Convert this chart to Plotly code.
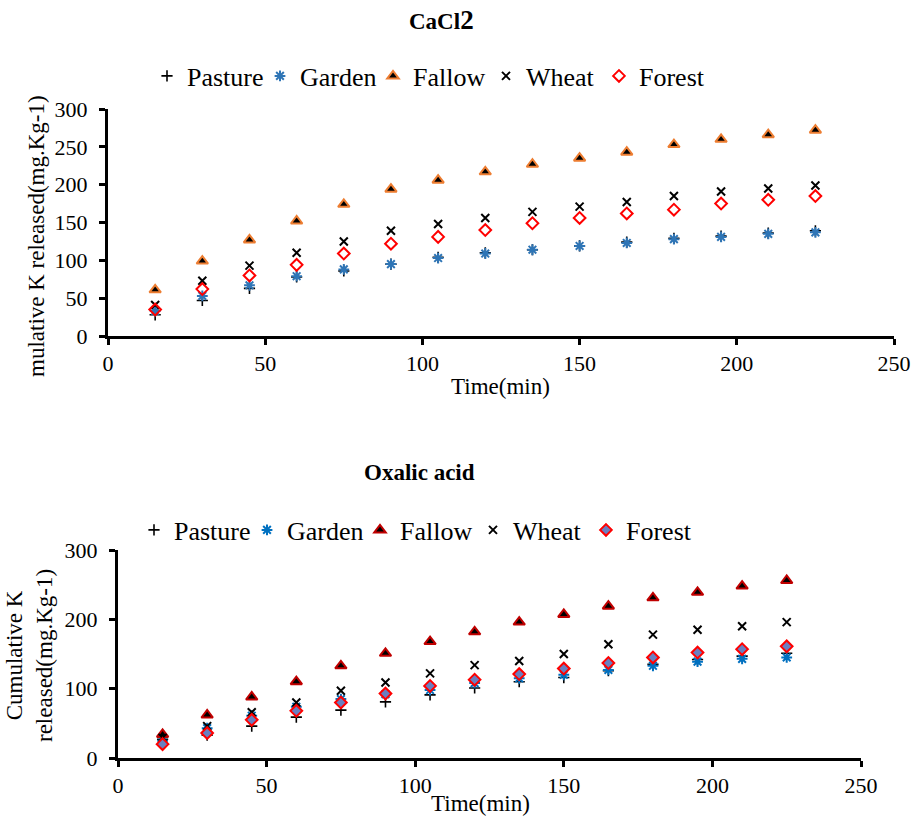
import plotly.graph_objects as go

W, H = 919, 820
time_min = [15, 30, 45, 60, 75, 90, 105, 120, 135, 150, 165, 180, 195, 210, 225]
series_names = ["Pasture", "Garden", "Fallow", "Wheat", "Forest"]

# CaCl2 extraction (mg/kg)
cacl2_pasture = [28, 47, 63, 78, 86, 95, 104, 110, 114, 119, 124, 129, 132, 136, 139]
cacl2_garden = [33, 53, 67, 79, 88, 95, 103, 109, 114, 119, 123, 128, 131, 135, 137]
cacl2_fallow = [61, 99, 127, 152, 174, 194, 206, 217, 227, 235, 243, 253, 260, 266, 272]
cacl2_wheat = [41, 73, 93, 110, 125, 139, 148, 156, 164, 171, 177, 185, 191, 195, 199]
cacl2_forest = [35, 62, 80, 94, 109, 122, 131, 140, 149, 156, 162, 167, 175, 180, 185]

# Oxalic acid extraction (mg/kg)
ox_pasture = [27, 33, 46, 59, 69, 81, 91, 101, 110, 116, 126, 135, 142, 147, 151]
ox_garden = [25, 43, 61, 74, 85, 92, 98, 108, 115, 120, 127, 133, 139, 143, 145]
ox_fallow = [34, 62, 88, 110, 133, 151, 168, 182, 196, 207, 219, 231, 239, 248, 256]
ox_wheat = [29, 46, 66, 80, 97, 109, 122, 134, 140, 150, 164, 178, 185, 190, 196]
ox_forest = [20, 36, 55, 68, 80, 93, 104, 113, 121, 129, 137, 145, 152, 157, 161]

FONT = "Liberation Serif, Times New Roman, serif"

top_styles = [
    dict(symbol="cross-thin", size=8, color="black", line=dict(color="black", width=1.6)),
    dict(symbol="asterisk", size=9, color="#2E75B6", line=dict(color="#2E75B6", width=2)),
    dict(symbol="triangle-up", size=10, color="black", line=dict(color="#ED7D31", width=2)),
    dict(symbol="x-thin", size=8, color="black", line=dict(color="black", width=2)),
    dict(symbol="diamond-open", size=9, color="red", line=dict(color="red", width=2)),
]
bot_styles = [
    dict(symbol="cross-thin", size=8, color="black", line=dict(color="black", width=1.6)),
    dict(symbol="asterisk", size=9, color="#0070C0", line=dict(color="#0070C0", width=2)),
    dict(symbol="triangle-up", size=10, color="black", line=dict(color="#C00000", width=2)),
    dict(symbol="x-thin", size=8, color="black", line=dict(color="black", width=2)),
    dict(symbol="diamond", size=9, color="#6A7FC0", line=dict(color="red", width=2)),
]

fig = go.Figure()
top_data = [cacl2_pasture, cacl2_garden, cacl2_fallow, cacl2_wheat, cacl2_forest]
bot_data = [ox_pasture, ox_garden, ox_fallow, ox_wheat, ox_forest]
for name, ys, st in zip(series_names, top_data, top_styles):
    fig.add_trace(go.Scatter(x=time_min, y=ys, mode="markers", name=name, marker=st,
                             xaxis="x", yaxis="y", legend="legend"))
for name, ys, st in zip(series_names, bot_data, bot_styles):
    fig.add_trace(go.Scatter(x=time_min, y=ys, mode="markers", name=name, marker=st,
                             xaxis="x2", yaxis="y2", legend="legend2"))

def px_x(p):
    return p / W

def px_y(p):
    return 1 - p / H

axis_common = dict(showgrid=False, zeroline=False, showline=True, linecolor="black", linewidth=3,
                   ticks="outside", ticklen=6, tickwidth=2.5, tickcolor="black", automargin=False,
                   tickfont=dict(family=FONT, size=22, color="black"))

legend_common = dict(orientation="h", xanchor="left", yanchor="middle",
                     font=dict(family=FONT, size=26), itemwidth=30, bgcolor="rgba(0,0,0,0)",
                     entrywidth=68, entrywidthmode="pixels")

fig.update_layout(
    width=W, height=H, margin=dict(l=0, r=0, t=0, b=0, autoexpand=False),
    plot_bgcolor="white", paper_bgcolor="white",
    font=dict(family=FONT, color="black"),
    xaxis=dict(domain=[px_x(108), px_x(894)], range=[0, 250], dtick=50, anchor="y", **axis_common),
    yaxis=dict(domain=[px_y(336), px_y(109)], range=[0, 300], dtick=50, anchor="x",
               ticklabelstandoff=7, **axis_common),
    xaxis2=dict(domain=[px_x(118), px_x(861)], range=[0, 250], dtick=50, anchor="y2", **axis_common),
    yaxis2=dict(domain=[px_y(758), px_y(550)], range=[0, 300], dtick=100, anchor="x2",
                ticklabelstandoff=7, **axis_common),
    legend=dict(x=px_x(147), y=px_y(76), **legend_common),
    legend2=dict(x=px_x(134), y=px_y(530), **legend_common),
    showlegend=True,
)

annots = [
    dict(text="<b>CaCl</b><b><span style='font-size:27px'>2</span></b>", x=px_x(441), y=px_y(20), size=23),
    dict(text="<b>Oxalic acid</b>", x=px_x(419), y=px_y(473), size=23),
    dict(text="Time(min)", x=px_x(501), y=px_y(386), size=23),
    dict(text="Time(min)", x=px_x(480), y=px_y(803), size=23),
]
for a in annots:
    fig.add_annotation(text=a["text"], x=a["x"], y=a["y"], xref="paper", yref="paper",
                       xanchor="center", yanchor="middle", showarrow=False,
                       font=dict(family=FONT, size=a["size"], color="black"))

fig.add_annotation(text="mulative K released(mg.Kg-1)", x=px_x(36), y=px_y(236), xref="paper", yref="paper",
                   xanchor="center", yanchor="middle", showarrow=False, textangle=-90,
                   font=dict(family=FONT, size=23, color="black"))
fig.add_annotation(text="Cumulative K<br>released(mg.Kg-1)", x=px_x(29), y=px_y(656), xref="paper", yref="paper",
                   xanchor="center", yanchor="middle", showarrow=False, textangle=-90,
                   font=dict(family=FONT, size=23, color="black"))

fig.write_html("out.html", config={"displayModeBar": False},
               post_script="document.body.style.margin='0';")
